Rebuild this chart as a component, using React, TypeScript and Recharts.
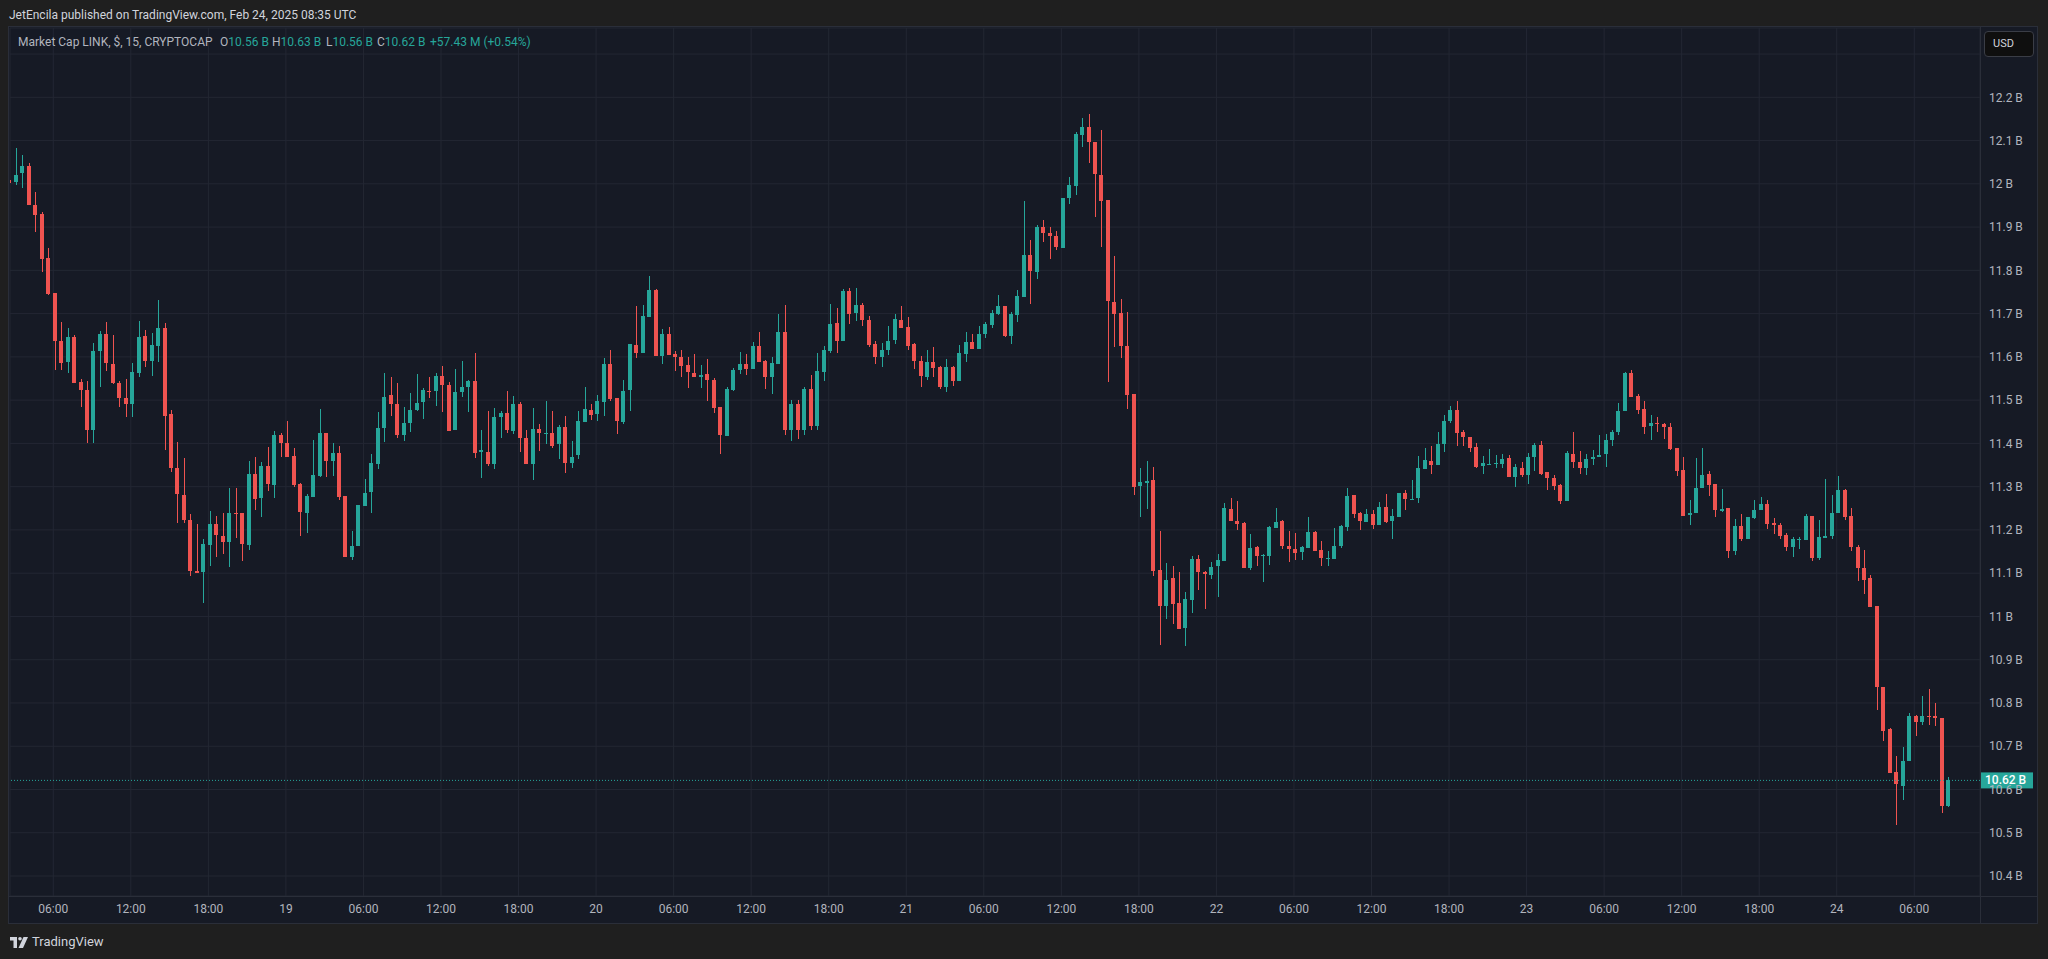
import React from 'react';
import {
  ComposedChart,
  Bar,
  XAxis,
  YAxis,
  CartesianGrid,
  ReferenceLine
} from 'recharts';

// 30-minute candles, first bar opens Feb 18 02:30 (UTC)
const firstBarHour = 2.5;
const barHours = 0.5;

const opens = [
  12.008, 12.005, 12.024, 12.041, 11.951, 11.930, 11.828, 11.747, 11.637, 11.587,
  11.646, 11.542, 11.523, 11.432, 11.613, 11.653, 11.583, 11.540, 11.506, 11.490,
  11.563, 11.648, 11.591, 11.626, 11.667, 11.468, 11.343, 11.281, 11.223, 11.104,
  11.103, 11.166, 11.214, 11.187, 11.171, 11.238, 11.239, 11.165, 11.329, 11.274,
  11.348, 11.304, 11.419, 11.402, 11.371, 11.306, 11.238, 11.277, 11.325, 11.424,
  11.359, 11.378, 11.278, 11.138, 11.163, 11.256, 11.288, 11.352, 11.436, 11.512,
  11.492, 11.419, 11.447, 11.477, 11.495, 11.522, 11.522, 11.555, 11.535, 11.430,
  11.518, 11.530, 11.544, 11.380, 11.380, 11.352, 11.461, 11.470, 11.429, 11.491,
  11.412, 11.352, 11.433, 11.424, 11.425, 11.399, 11.437, 11.355, 11.373, 11.450,
  11.477, 11.468, 11.496, 11.583, 11.504, 11.450, 11.523, 11.627, 11.608, 11.692,
  11.754, 11.602, 11.652, 11.606, 11.599, 11.581, 11.562, 11.553, 11.560, 11.546,
  11.484, 11.417, 11.523, 11.569, 11.583, 11.572, 11.625, 11.590, 11.553, 11.583,
  11.657, 11.430, 11.490, 11.430, 11.526, 11.440, 11.565, 11.613, 11.678, 11.637,
  11.752, 11.701, 11.720, 11.685, 11.630, 11.600, 11.616, 11.639, 11.685, 11.669,
  11.630, 11.590, 11.553, 11.588, 11.576, 11.530, 11.576, 11.544, 11.606, 11.634,
  11.618, 11.652, 11.674, 11.700, 11.718, 11.648, 11.697, 11.739, 11.835, 11.796,
  11.901, 11.886, 11.879, 11.852, 11.967, 11.996, 12.114, 12.131, 12.097, 12.021,
  11.963, 11.726, 11.701, 11.625, 11.515, 11.301, 11.309, 11.316, 11.107, 11.023,
  11.088, 11.030, 10.973, 11.037, 11.132, 11.102, 11.095, 11.116, 11.128, 11.249,
  11.221, 11.216, 11.112, 11.160, 11.139, 11.139, 11.205, 11.220, 11.163, 11.156,
  11.148, 11.158, 11.195, 11.153, 11.135, 11.133, 11.162, 11.207, 11.280, 11.239,
  11.219, 11.236, 11.212, 11.253, 11.220, 11.230, 11.285, 11.269, 11.273, 11.341,
  11.360, 11.350, 11.399, 11.451, 11.478, 11.427, 11.415, 11.392, 11.348, 11.353,
  11.355, 11.353, 11.366, 11.323, 11.344, 11.326, 11.369, 11.397, 11.334, 11.319,
  11.304, 11.268, 11.376, 11.356, 11.344, 11.363, 11.369, 11.376, 11.407, 11.426,
  11.474, 11.563, 11.510, 11.480, 11.441, 11.448, 11.445, 11.438, 11.390, 11.339,
  11.234, 11.240, 11.297, 11.329, 11.306, 11.244, 11.251, 11.152, 11.209, 11.180,
  11.228, 11.247, 11.260, 11.216, 11.211, 11.188, 11.161, 11.179, 11.177, 11.232,
  11.134, 11.181, 11.187, 11.238, 11.292, 11.232, 11.161, 11.111, 11.089, 11.023,
  10.838, 10.739, 10.641, 10.609, 10.665, 10.771, 10.755, 10.769, 10.769, 10.765,
  10.561
];

const highs = [
  12.022, 12.082, 12.066, 12.047, 11.981, 11.935, 11.851, 11.747, 11.680, 11.667,
  11.650, 11.550, 11.544, 11.631, 11.660, 11.680, 11.650, 11.544, 11.549, 11.586,
  11.683, 11.662, 11.655, 11.731, 11.678, 11.477, 11.403, 11.366, 11.237, 11.214,
  11.179, 11.244, 11.232, 11.239, 11.297, 11.297, 11.240, 11.359, 11.368, 11.357,
  11.392, 11.428, 11.423, 11.452, 11.389, 11.308, 11.283, 11.408, 11.479, 11.424,
  11.400, 11.394, 11.278, 11.198, 11.258, 11.318, 11.375, 11.472, 11.562, 11.553,
  11.539, 11.485, 11.516, 11.560, 11.528, 11.553, 11.562, 11.578, 11.542, 11.572,
  11.590, 11.546, 11.608, 11.431, 11.475, 11.482, 11.475, 11.521, 11.509, 11.496,
  11.431, 11.482, 11.445, 11.498, 11.475, 11.442, 11.463, 11.405, 11.475, 11.530,
  11.491, 11.512, 11.597, 11.615, 11.504, 11.546, 11.629, 11.717, 11.719, 11.788,
  11.756, 11.664, 11.668, 11.613, 11.615, 11.599, 11.606, 11.581, 11.595, 11.551,
  11.484, 11.530, 11.574, 11.611, 11.606, 11.634, 11.657, 11.593, 11.600, 11.699,
  11.720, 11.500, 11.500, 11.530, 11.558, 11.609, 11.625, 11.722, 11.713, 11.757,
  11.759, 11.759, 11.724, 11.694, 11.637, 11.632, 11.671, 11.699, 11.717, 11.692,
  11.632, 11.602, 11.616, 11.623, 11.579, 11.595, 11.579, 11.627, 11.657, 11.653,
  11.671, 11.680, 11.708, 11.742, 11.718, 11.703, 11.754, 11.960, 11.870, 11.904,
  11.916, 11.900, 11.892, 11.967, 12.015, 12.119, 12.152, 12.161, 12.097, 12.124,
  11.963, 11.833, 11.734, 11.703, 11.515, 11.343, 11.359, 11.345, 11.197, 11.123,
  11.116, 11.102, 11.056, 11.139, 11.142, 11.104, 11.125, 11.144, 11.262, 11.273,
  11.267, 11.218, 11.190, 11.162, 11.144, 11.209, 11.250, 11.223, 11.197, 11.192,
  11.162, 11.229, 11.197, 11.174, 11.151, 11.204, 11.211, 11.297, 11.280, 11.241,
  11.248, 11.246, 11.264, 11.283, 11.248, 11.285, 11.292, 11.315, 11.371, 11.389,
  11.394, 11.427, 11.466, 11.487, 11.498, 11.431, 11.415, 11.401, 11.371, 11.387,
  11.373, 11.376, 11.373, 11.353, 11.357, 11.378, 11.401, 11.406, 11.334, 11.327,
  11.307, 11.383, 11.427, 11.383, 11.376, 11.385, 11.420, 11.422, 11.430, 11.494,
  11.566, 11.570, 11.515, 11.498, 11.466, 11.461, 11.446, 11.446, 11.390, 11.369,
  11.269, 11.366, 11.389, 11.336, 11.306, 11.295, 11.251, 11.225, 11.237, 11.230,
  11.269, 11.276, 11.269, 11.228, 11.216, 11.193, 11.184, 11.184, 11.237, 11.232,
  11.223, 11.318, 11.281, 11.325, 11.295, 11.251, 11.165, 11.154, 11.096, 11.024,
  10.838, 10.741, 10.678, 10.699, 10.776, 10.773, 10.817, 10.833, 10.801, 10.766,
  10.630
];

const lows = [
  11.984, 11.997, 11.991, 11.951, 11.889, 11.797, 11.743, 11.570, 11.570, 11.563,
  11.539, 11.483, 11.402, 11.402, 11.531, 11.568, 11.537, 11.483, 11.462, 11.462,
  11.554, 11.577, 11.556, 11.588, 11.385, 11.335, 11.217, 11.217, 11.094, 11.100,
  11.032, 11.117, 11.138, 11.145, 11.115, 11.182, 11.129, 11.154, 11.246, 11.229,
  11.291, 11.274, 11.368, 11.369, 11.300, 11.187, 11.194, 11.277, 11.323, 11.323,
  11.325, 11.269, 11.138, 11.131, 11.163, 11.255, 11.240, 11.341, 11.404, 11.463,
  11.413, 11.406, 11.427, 11.475, 11.456, 11.505, 11.486, 11.472, 11.428, 11.430,
  11.508, 11.472, 11.367, 11.321, 11.348, 11.341, 11.412, 11.425, 11.422, 11.381,
  11.352, 11.315, 11.383, 11.398, 11.390, 11.365, 11.332, 11.342, 11.365, 11.450,
  11.454, 11.452, 11.463, 11.498, 11.422, 11.445, 11.475, 11.597, 11.608, 11.692,
  11.602, 11.583, 11.604, 11.567, 11.553, 11.528, 11.553, 11.528, 11.498, 11.470,
  11.375, 11.417, 11.521, 11.560, 11.558, 11.572, 11.588, 11.526, 11.514, 11.583,
  11.420, 11.405, 11.410, 11.420, 11.430, 11.430, 11.544, 11.610, 11.609, 11.637,
  11.676, 11.683, 11.671, 11.623, 11.583, 11.576, 11.604, 11.630, 11.667, 11.616,
  11.572, 11.530, 11.546, 11.553, 11.526, 11.519, 11.532, 11.544, 11.588, 11.618,
  11.618, 11.644, 11.666, 11.697, 11.646, 11.630, 11.681, 11.739, 11.722, 11.780,
  11.866, 11.826, 11.846, 11.852, 11.953, 11.975, 12.086, 12.049, 11.924, 11.854,
  11.542, 11.623, 11.598, 11.479, 11.281, 11.231, 11.249, 11.094, 10.935, 10.995,
  10.983, 10.971, 10.931, 11.007, 11.060, 11.017, 11.086, 11.045, 11.128, 11.221,
  11.200, 11.112, 11.108, 11.117, 11.080, 11.119, 11.205, 11.156, 11.126, 11.131,
  11.131, 11.158, 11.152, 11.117, 11.117, 11.133, 11.158, 11.198, 11.228, 11.199,
  11.219, 11.202, 11.212, 11.216, 11.179, 11.230, 11.246, 11.269, 11.262, 11.341,
  11.330, 11.350, 11.379, 11.447, 11.394, 11.394, 11.380, 11.344, 11.329, 11.353,
  11.342, 11.344, 11.323, 11.300, 11.323, 11.305, 11.337, 11.327, 11.293, 11.292,
  11.261, 11.268, 11.342, 11.330, 11.326, 11.351, 11.369, 11.346, 11.395, 11.420,
  11.474, 11.508, 11.467, 11.421, 11.409, 11.427, 11.411, 11.385, 11.325, 11.232,
  11.211, 11.240, 11.297, 11.278, 11.231, 11.241, 11.134, 11.143, 11.175, 11.179,
  11.226, 11.245, 11.202, 11.191, 11.180, 11.152, 11.138, 11.156, 11.177, 11.129,
  11.131, 11.181, 11.180, 11.238, 11.224, 11.152, 11.083, 11.053, 11.021, 10.783,
  10.713, 10.639, 10.519, 10.575, 10.665, 10.723, 10.750, 10.750, 10.746, 10.545,
  10.559
];

const closes = [
  12.002, 12.020, 12.041, 11.951, 11.928, 11.827, 11.745, 11.637, 11.585, 11.646,
  11.540, 11.523, 11.432, 11.613, 11.653, 11.585, 11.539, 11.506, 11.491, 11.565,
  11.647, 11.591, 11.627, 11.667, 11.464, 11.342, 11.283, 11.222, 11.104, 11.100,
  11.168, 11.214, 11.189, 11.171, 11.239, 11.237, 11.168, 11.329, 11.271, 11.348,
  11.306, 11.419, 11.402, 11.369, 11.304, 11.241, 11.278, 11.327, 11.424, 11.359,
  11.378, 11.277, 11.138, 11.163, 11.258, 11.286, 11.355, 11.436, 11.508, 11.492,
  11.419, 11.447, 11.477, 11.493, 11.523, 11.519, 11.555, 11.535, 11.428, 11.518,
  11.530, 11.544, 11.378, 11.385, 11.352, 11.461, 11.470, 11.431, 11.491, 11.412,
  11.352, 11.433, 11.424, 11.425, 11.394, 11.438, 11.355, 11.369, 11.452, 11.479,
  11.465, 11.498, 11.583, 11.502, 11.452, 11.521, 11.629, 11.608, 11.694, 11.754,
  11.602, 11.652, 11.604, 11.599, 11.578, 11.565, 11.553, 11.558, 11.546, 11.482,
  11.419, 11.525, 11.569, 11.583, 11.572, 11.625, 11.588, 11.553, 11.586, 11.657,
  11.430, 11.490, 11.430, 11.526, 11.440, 11.567, 11.616, 11.676, 11.637, 11.752,
  11.699, 11.720, 11.685, 11.627, 11.600, 11.616, 11.637, 11.687, 11.667, 11.625,
  11.590, 11.556, 11.588, 11.574, 11.530, 11.576, 11.544, 11.609, 11.634, 11.618,
  11.653, 11.676, 11.701, 11.718, 11.648, 11.700, 11.741, 11.835, 11.798, 11.901,
  11.886, 11.879, 11.853, 11.967, 11.997, 12.115, 12.131, 12.097, 12.022, 11.961,
  11.729, 11.700, 11.624, 11.513, 11.300, 11.310, 11.314, 11.105, 11.025, 11.084,
  11.029, 10.971, 11.040, 11.132, 11.102, 11.098, 11.115, 11.130, 11.250, 11.221,
  11.214, 11.112, 11.158, 11.139, 11.142, 11.206, 11.219, 11.163, 11.156, 11.147,
  11.161, 11.195, 11.152, 11.135, 11.135, 11.162, 11.209, 11.278, 11.237, 11.220,
  11.236, 11.212, 11.253, 11.219, 11.232, 11.285, 11.271, 11.271, 11.343, 11.361,
  11.351, 11.399, 11.452, 11.478, 11.424, 11.415, 11.390, 11.346, 11.355, 11.353,
  11.355, 11.365, 11.323, 11.346, 11.326, 11.369, 11.397, 11.329, 11.320, 11.302,
  11.268, 11.378, 11.356, 11.344, 11.365, 11.369, 11.373, 11.408, 11.427, 11.475,
  11.563, 11.508, 11.478, 11.439, 11.448, 11.445, 11.439, 11.387, 11.336, 11.232,
  11.240, 11.297, 11.327, 11.304, 11.246, 11.248, 11.152, 11.209, 11.180, 11.230,
  11.247, 11.260, 11.214, 11.211, 11.187, 11.160, 11.179, 11.179, 11.232, 11.134,
  11.184, 11.187, 11.239, 11.292, 11.231, 11.161, 11.111, 11.085, 11.021, 10.836,
  10.736, 10.639, 10.612, 10.667, 10.771, 10.757, 10.771, 10.768, 10.765, 10.561,
  10.621
];

// axis ticks (hours since Feb 18 00:00 UTC)
const timeTicks = [
  6, 12, 18, 24, 30, 36, 42, 48, 54, 60, 66, 72, 78, 84, 90,
  96, 102, 108, 114, 120, 126, 132, 138, 144, 150
];
const timeTickLabels = [
  '06:00', '12:00', '18:00', '19', '06:00', '12:00', '18:00', '20', '06:00', '12:00',
  '18:00', '21', '06:00', '12:00', '18:00', '22', '06:00', '12:00', '18:00', '23',
  '06:00', '12:00', '18:00', '24', '06:00'
];
const priceTicks = [
  10.4, 10.5, 10.6, 10.7, 10.8, 10.9, 11, 11.1, 11.2, 11.3,
  11.4, 11.5, 11.6, 11.7, 11.8, 11.9, 12, 12.1, 12.2, 12.3
];
const priceTickLabels = [
  '10.4 B', '10.5 B', '10.6 B', '10.7 B', '10.8 B', '10.9 B', '11 B', '11.1 B', '11.2 B', '11.3 B',
  '11.4 B', '11.5 B', '11.6 B', '11.7 B', '11.8 B', '11.9 B', '12 B', '12.1 B', '12.2 B', ''
];

const UP = '#26a69a';
const DOWN = '#ef5350';
const BG = '#161a25';
const FRAME = '#1f1f1f';
const LINE = '#2a2e39';
const GRID = '#232733';
const TEXT = '#b2b5be';

const rows = opens.map((open, i) => ({
  // centre of the 30 min slot sits between its two 15 min candles
  t: firstBarHour + i * barHours + barHours / 4,
  open,
  high: highs[i],
  low: lows[i],
  close: closes[i]
}));

const lastClose = closes[closes.length - 1];

const Candle = (props: any) => {
  const { x, y, width, height, payload } = props;
  if (x == null || y == null || !payload) return null;
  const { open, high, low, close } = payload;
  const top = Math.min(y, y + height);
  const span = Math.abs(height);
  const range = high - low;
  const toY = (v: number) => (range > 0 ? top + ((high - v) / range) * span : top);
  const color = close >= open ? UP : DOWN;
  const cx = Math.round(x + width / 2);
  const bTop = toY(Math.max(open, close));
  const bBot = toY(Math.min(open, close));
  return (
    <g shapeRendering="crispEdges">
      <rect x={cx} y={top} width={1} height={Math.max(span, 1)} fill={color} />
      <rect x={cx - 2} y={bTop} width={4} height={Math.max(bBot - bTop, 1)} fill={color} />
    </g>
  );
};

const PriceTag = (props: any) => {
  const vb = props.viewBox;
  if (!vb) return null;
  const left = vb.x + vb.width + 1;
  return (
    <g>
      <rect x={left} y={vb.y - 8} width={52} height={16} fill={UP} />
      <text x={left + 4} y={vb.y + 4} fill="#ffffff" fontSize={12} fontWeight={500}>
        {lastClose.toFixed(2) + ' B'}
      </text>
    </g>
  );
};

const App: React.FC = () => {
  return (
    <div
      style={{
        position: 'absolute',
        left: 0,
        top: 0,
        width: 2048,
        height: 959,
        background: FRAME,
        fontFamily: 'Roboto, sans-serif',
        overflow: 'hidden'
      }}
    >
      <div style={{ position: 'absolute', left: 9, top: 7, fontSize: 12, lineHeight: '16px', color: '#d1d4dc' }}>
        JetEncila published on TradingView.com, Feb 24, 2025 08:35 UTC
      </div>

      <div
        style={{
          position: 'absolute',
          left: 8,
          top: 26,
          width: 2030,
          height: 898,
          boxSizing: 'border-box',
          border: `1px solid ${LINE}`,
          background: BG
        }}
      />

      <div style={{ position: 'absolute', left: 9, top: 27 }}>
        <ComposedChart
          width={2028}
          height={896}
          data={rows}
          margin={{ top: 1, right: 0, bottom: 0, left: 1 }}
        >
          <CartesianGrid stroke={GRID} />
          <XAxis
            dataKey="t"
            type="number"
            domain={[2.65, 155.084]}
            allowDataOverflow
            ticks={timeTicks}
            interval={0}
            tickFormatter={(v: number) => timeTickLabels[timeTicks.indexOf(v)] ?? ''}
            axisLine={false}
            tickLine={false}
            height={27}
            tick={{ fill: TEXT, fontSize: 12 }}
          />
          <YAxis
            orientation="right"
            type="number"
            domain={[10.3538, 12.3602]}
            allowDataOverflow
            ticks={priceTicks}
            interval={0}
            tickFormatter={(v: number) => priceTickLabels[priceTicks.indexOf(v)] ?? ''}
            axisLine={false}
            tickLine={false}
            tickMargin={3}
            width={57}
            tick={{ fill: TEXT, fontSize: 12 }}
          />
          <Bar
            dataKey={(d: any) => [d.low, d.high]}
            barSize={4}
            shape={<Candle />}
            isAnimationActive={false}
          />
          <ReferenceLine
            y={lastClose}
            stroke={UP}
            strokeDasharray="1 2"
            label={<PriceTag />}
          />
        </ComposedChart>
      </div>

      {/* axis separators */}
      <div style={{ position: 'absolute', left: 9, top: 896, width: 2028, height: 1, background: LINE }} />
      <div style={{ position: 'absolute', left: 1980, top: 27, width: 1, height: 896, background: LINE }} />

      {/* legend */}
      <div style={{ position: 'absolute', left: 18, top: 34, fontSize: 12, lineHeight: '16px', color: TEXT, whiteSpace: 'nowrap' }}>
        Market Cap LINK, $, 15, CRYPTOCAP
      </div>
      {[
        { k: 'O', v: '10.56 B', x: 220 },
        { k: 'H', v: '10.63 B', x: 272 },
        { k: 'L', v: '10.56 B', x: 326 },
        { k: 'C', v: '10.62 B', x: 377 }
      ].map((item) => (
        <div
          key={item.k}
          style={{ position: 'absolute', left: item.x, top: 34, fontSize: 12, lineHeight: '16px', color: TEXT, whiteSpace: 'nowrap' }}
        >
          {item.k}
          <span style={{ color: UP }}>{item.v}</span>
        </div>
      ))}
      <div style={{ position: 'absolute', left: 430, top: 34, fontSize: 12, lineHeight: '16px', color: UP, whiteSpace: 'nowrap' }}>
        +57.43 M (+0.54%)
      </div>

      {/* currency button */}
      <div
        style={{
          position: 'absolute',
          left: 1984,
          top: 31,
          width: 50,
          height: 26,
          boxSizing: 'border-box',
          border: '1px solid #3a3d46',
          borderRadius: 4,
          background: '#0f0f0f',
          color: '#d1d4dc',
          fontSize: 11,
          lineHeight: '24px',
          paddingLeft: 8
        }}
      >
        USD
      </div>

      {/* footer logo */}
      <div style={{ position: 'absolute', left: 10, top: 934, display: 'flex', alignItems: 'center', gap: 4, color: '#d1d4dc' }}>
        <svg width={18} height={11} viewBox="0 0 18 11">
          <rect x={0} y={0} width={7} height={3.5} fill="#d1d4dc" />
          <rect x={3.5} y={0} width={3.5} height={11} fill="#d1d4dc" />
          <circle cx={10} cy={1.8} r={1.8} fill="#d1d4dc" />
          <polygon points="13.5,0 18,0 13,11 8.5,11" fill="#d1d4dc" />
        </svg>
        <span style={{ fontSize: 13, lineHeight: '16px' }}>TradingView</span>
      </div>
    </div>
  );
};

export default App;
